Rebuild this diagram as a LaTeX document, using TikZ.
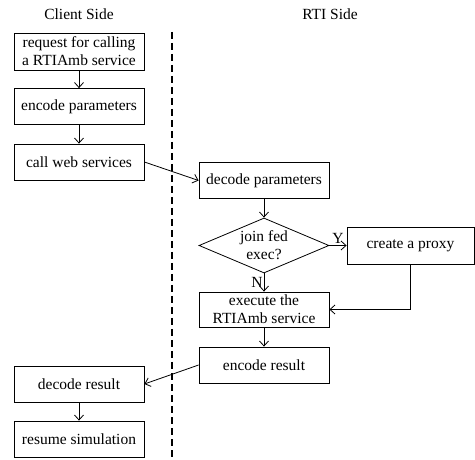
\documentclass[tikz,border=0pt]{standalone}
\usepackage{fontspec}
\setmainfont{Liberation Serif}
\usetikzlibrary{arrows.meta, positioning, calc, shapes.geometric}

\begin{document}
\begin{tikzpicture}[x=1pt, y=-1pt, font=\fontsize{15.5}{18}\selectfont,
    client/.style = {rectangle, draw, line width=0.8pt, minimum width=130pt, minimum height=36pt, align=center, inner sep=1pt},
    rti/.style = {client},
    decision/.style = {diamond, draw, aspect=2.36, line width=0.8pt, minimum width=130pt, minimum height=55pt, inner sep=0pt, align=center},
    ->, >={Straight Barb[length=5pt, width=9pt]}, line width=0.8pt]
        \useasboundingbox (0,0) rectangle (475,460);
        \node (cside) at (79,14) {Client Side};
        \node (rside) at (330,14) {RTI Side};
        \draw[-, dashed, line width=1.8pt, dash pattern=on 7pt off 4pt] (172,32) -- (172,457); % separator
        % client side
        \node[client, minimum height=37pt] (req) at (79,51.5) {request for calling\\a RTIAmb service};
        \node[client] (enc) at (79,106.5) {encode parameters};
        \node[client] (call) at (79,162) {call web services};
        \node[client] (decres) at (79,384) {decode result};
        \node[client] (resume) at (79,439) {resume simulation};
        % RTI side
        \node[rti] (dec) at (264,180.5) {decode parameters};
        \node[decision] (join) at (264,245.5) {join fed\\exec?};
        \node[rti, minimum width=127pt, minimum height=37pt] (proxy) at (410.5,245.5) {create a proxy};
        \node[rti, minimum height=35pt] (exec) at (264,309.5) {execute the\\RTIAmb service};
        \node[rti] (encres) at (264,365) {encode result};
        \path (req) edge (enc);
        \path (enc) edge (call);
        \path (call.east) edge (dec.west);
        \path (dec) edge (join);
        \path (join.east) edge node[above, inner sep=2pt] {Y} (proxy.west);
        \path (join.south) edge node[left, inner sep=1pt] {N} (exec.north);
        \draw (proxy.south) |- (exec.east);
        \path (exec) edge (encres);
        \path (encres.west) edge (decres.east);
        \path (decres) edge (resume);
    \end{tikzpicture}
\end{document}
